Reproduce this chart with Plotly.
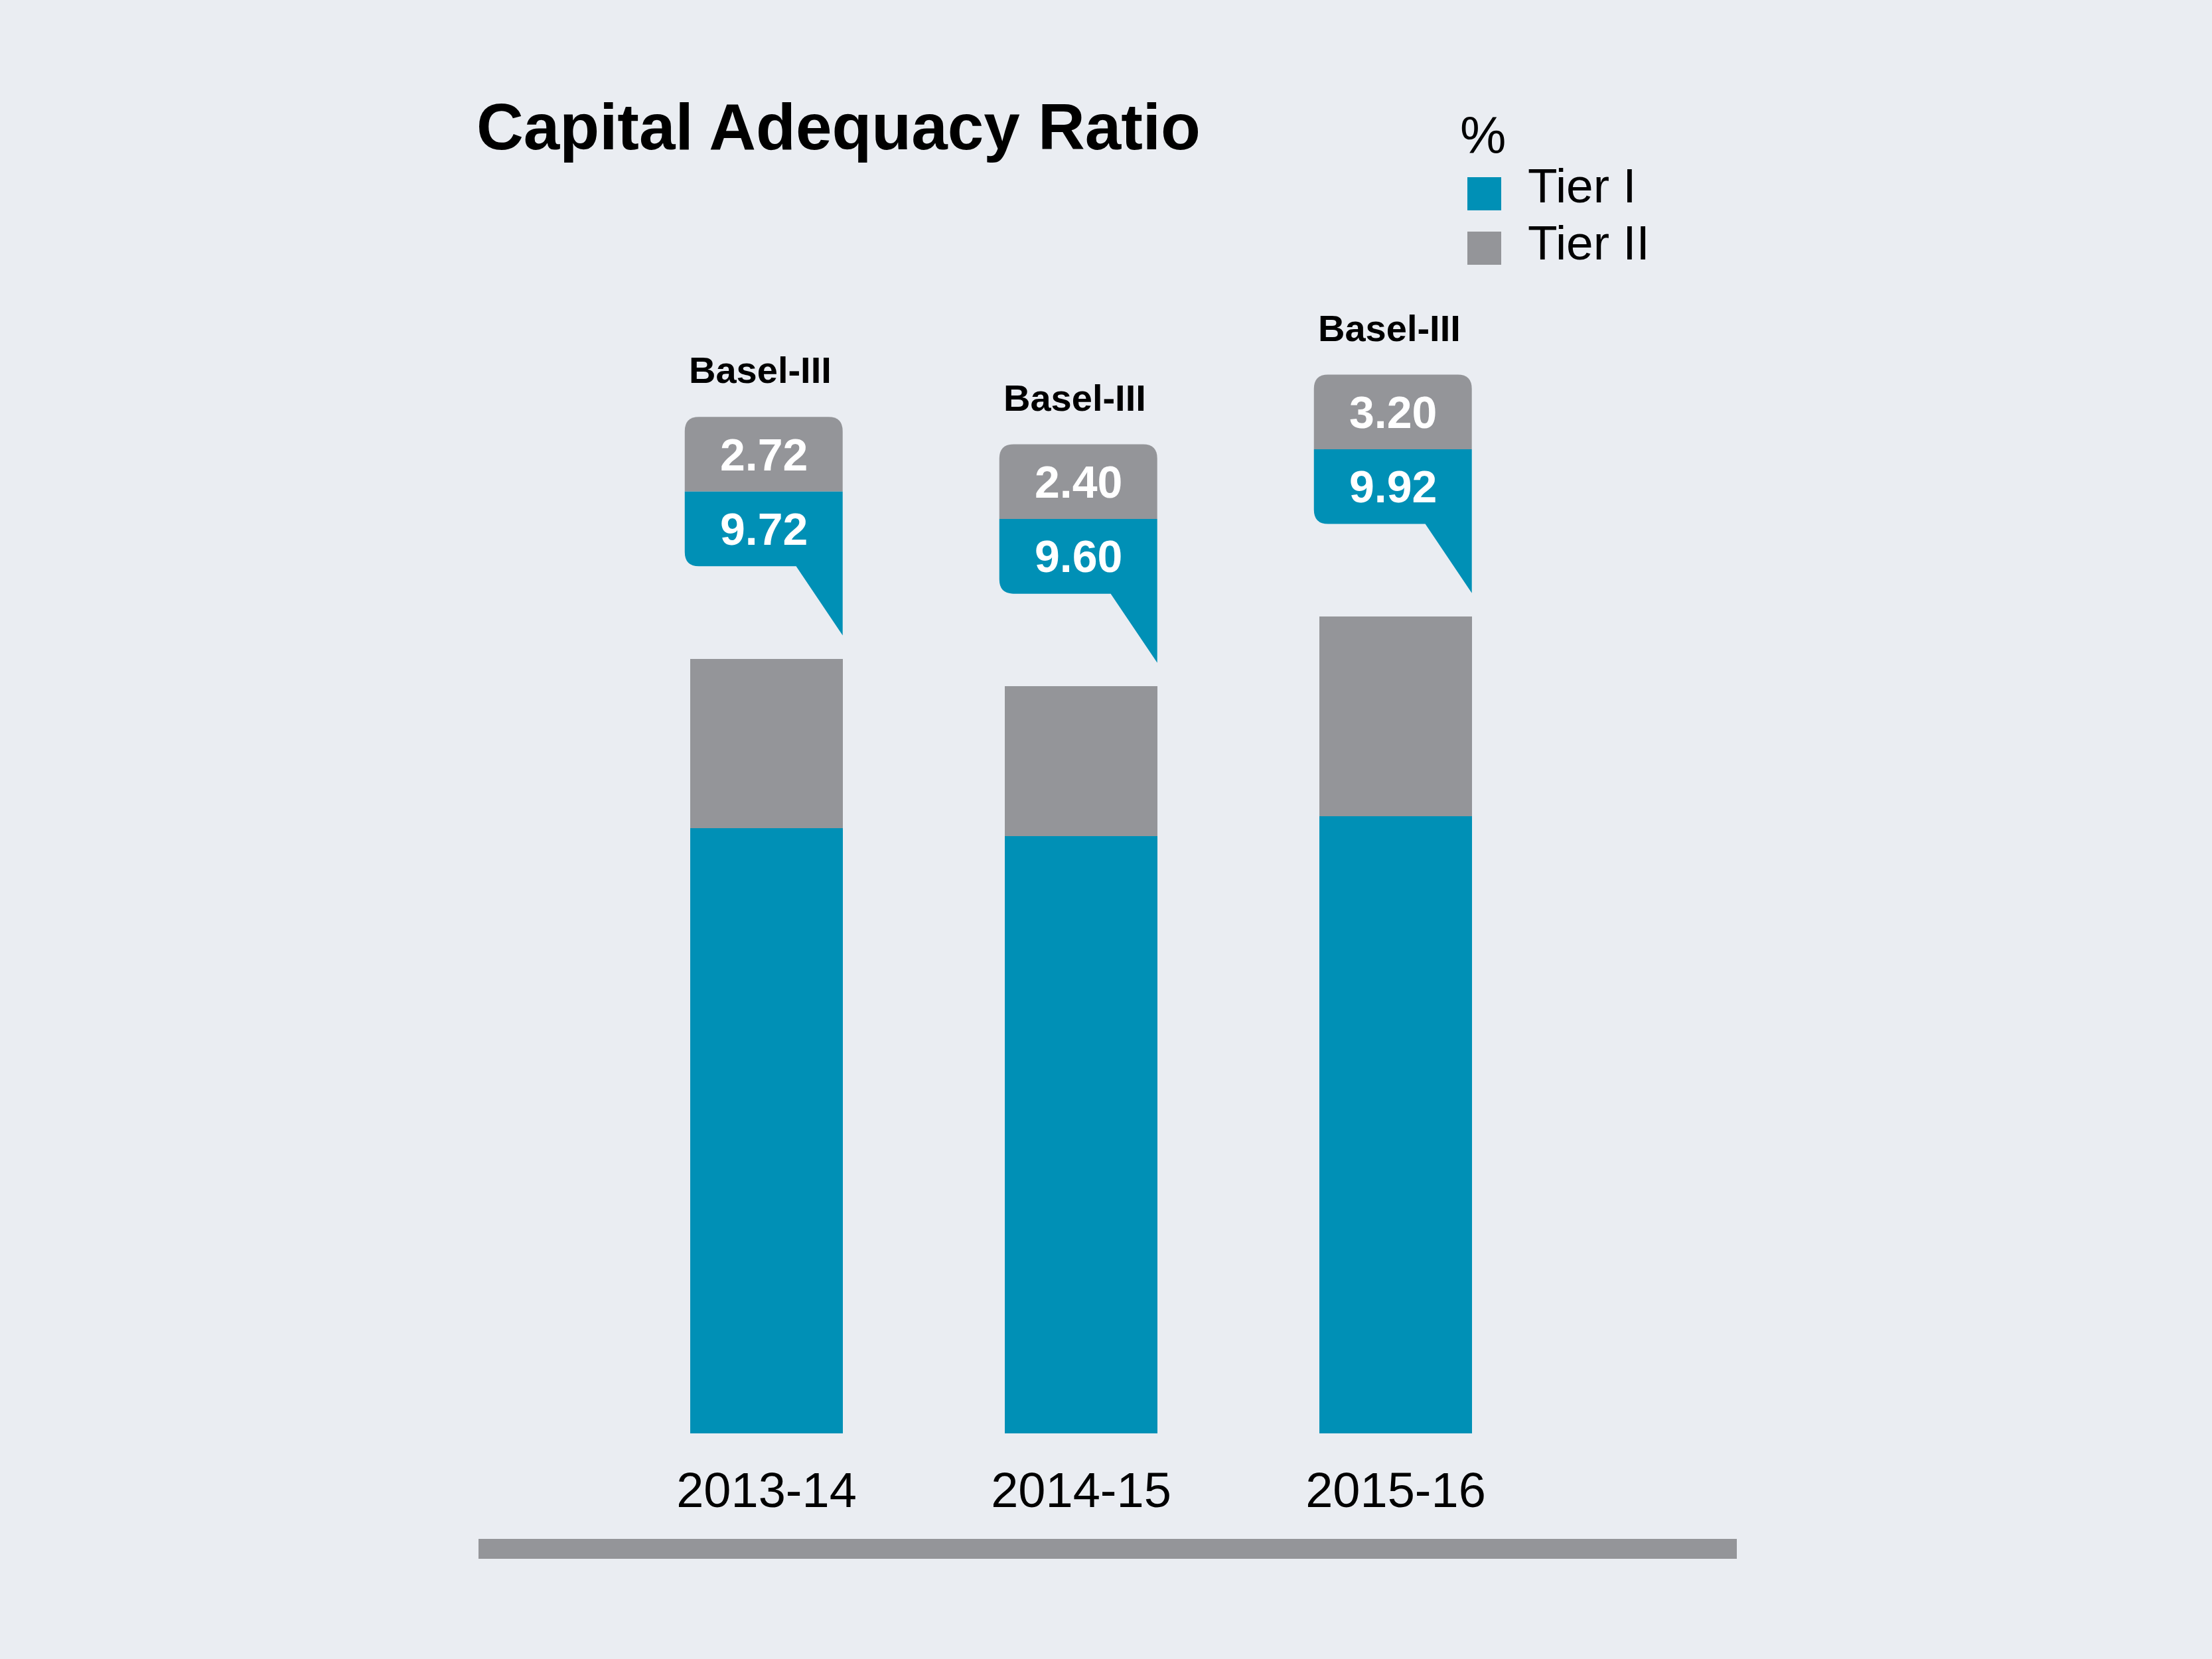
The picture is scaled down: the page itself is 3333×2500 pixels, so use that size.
import plotly.graph_objects as go

# ---------------- data ----------------
categories = ["2013-14", "2014-15", "2015-16"]
tier1 = [9.72, 9.60, 9.92]
tier2 = [2.72, 2.40, 3.20]
regime = ["Basel-III", "Basel-III", "Basel-III"]
series_names = ["Tier I", "Tier II"]
title_text = "Capital Adequacy Ratio"
unit_text = "%"

# ---------------- style ----------------
W, H = 3333, 2500
BG = "#EAEDF2"
BLUE = "#0090B6"
GRAY = "#949599"
REG = "Liberation Sans, Arial, Helvetica, sans-serif"
BOLDF = "Liberation Sans, Arial, Helvetica, sans-serif"

ML, MR, MT, MB = 918, 993, 284, 340
PW = W - ML - MR
PH = H - MT - MB


def pxx(px):
    return (px - ML) / PW


def pxy(py):
    return (H - MB - py) / PH


x = list(range(len(categories)))
BW = 0.484

fig = go.Figure()
fig.add_bar(x=x, y=tier1, name=series_names[0], width=BW,
            marker=dict(color=BLUE, line=dict(width=0)), showlegend=False)
fig.add_bar(x=x, y=tier2, name=series_names[1], width=BW,
            marker=dict(color=GRAY, line=dict(width=0)), showlegend=False)

shapes = []
annotations = []

# callouts
TIP_GAP, TAIL_H, HALF = 0.38, 1.11, 1.2
RX, RY = 0.045, 0.23
for i, (t1, t2) in enumerate(zip(tier1, tier2)):
    total = t1 + t2
    tip = total + TIP_GAP
    bot = tip + TAIL_H
    mid = bot + HALF
    top = mid + HALF
    xl = i - 0.26
    xr = i + BW / 2
    xt = i + 0.094
    xc = (xl + xr) / 2
    gray_path = (f"M {xl},{mid} L {xl},{top - RY} Q {xl},{top} {xl + RX},{top} "
                 f"L {xr - RX},{top} Q {xr},{top} {xr},{top - RY} L {xr},{mid} Z")
    blue_path = (f"M {xl},{mid} L {xr},{mid} L {xr},{tip} L {xt},{bot} "
                 f"L {xl + RX},{bot} Q {xl},{bot} {xl},{bot + RY} Z")
    shapes.append(dict(type="path", xref="x", yref="y", path=gray_path,
                       fillcolor=GRAY, line=dict(width=0), layer="above"))
    shapes.append(dict(type="path", xref="x", yref="y", path=blue_path,
                       fillcolor=BLUE, line=dict(width=0), layer="above"))
    annotations.append(dict(x=xc, y=(mid + top) / 2, xref="x", yref="y",
                            text=f"{t2:.2f}", showarrow=False,
                            font=dict(family=BOLDF, size=68, color="white", weight="bold")))
    annotations.append(dict(x=xc, y=(bot + mid) / 2, xref="x", yref="y",
                            text=f"{t1:.2f}", showarrow=False,
                            font=dict(family=BOLDF, size=68, color="white", weight="bold")))
    annotations.append(dict(x=xc - 0.01, y=top + 0.75, xref="x", yref="y",
                            text=regime[i], showarrow=False,
                            font=dict(family=BOLDF, size=56, color="black", weight="bold")))

# legend (manual)
annotations.append(dict(x=pxx(2198), y=pxy(204), xref="paper", yref="paper",
                        xanchor="left", yanchor="middle", text=unit_text, showarrow=False,
                        font=dict(family=REG, size=78, color="black")))
for name, col, sq_top, txt_c in [(series_names[0], BLUE, 267, 279),
                                 (series_names[1], GRAY, 349, 365)]:
    shapes.append(dict(type="rect", xref="paper", yref="paper",
                       x0=pxx(2211), x1=pxx(2262), y0=pxy(sq_top + 50), y1=pxy(sq_top),
                       fillcolor=col, line=dict(width=0)))
    annotations.append(dict(x=pxx(2300), y=pxy(txt_c), xref="paper", yref="paper",
                            xanchor="left", yanchor="middle", text=name, showarrow=False,
                            font=dict(family=REG, size=73, color="black")))

# bottom rule
shapes.append(dict(type="rect", xref="paper", yref="paper",
                   x0=pxx(721), x1=pxx(2617), y0=pxy(2349), y1=pxy(2319),
                   fillcolor=GRAY, line=dict(width=0)))

fig.update_layout(
    width=W, height=H,
    barmode="stack",
    paper_bgcolor=BG, plot_bgcolor=BG,
    margin=dict(l=ML, r=MR, t=MT, b=MB, autoexpand=False),
    title=dict(text=title_text, xref="container", yref="container",
               x=718 / W, y=1 - 191 / H, xanchor="left", yanchor="middle",
               font=dict(family=REG, size=98, color="black", weight="bold")),
    xaxis=dict(range=[-0.5, len(categories) - 0.5], tickmode="array",
               tickvals=x, ticktext=categories, showgrid=False, zeroline=False,
               showline=False, ticks="", ticklabelstandoff=36,
               tickfont=dict(family=REG, size=74, color="black")),
    yaxis=dict(range=[0, 20], visible=False, showgrid=False, zeroline=False),
    shapes=shapes,
    annotations=annotations,
)

fig.write_html("out.html",
               config={"displayModeBar": False},
               post_script="document.body.style.margin='0px';document.body.style.overflow='hidden';")
